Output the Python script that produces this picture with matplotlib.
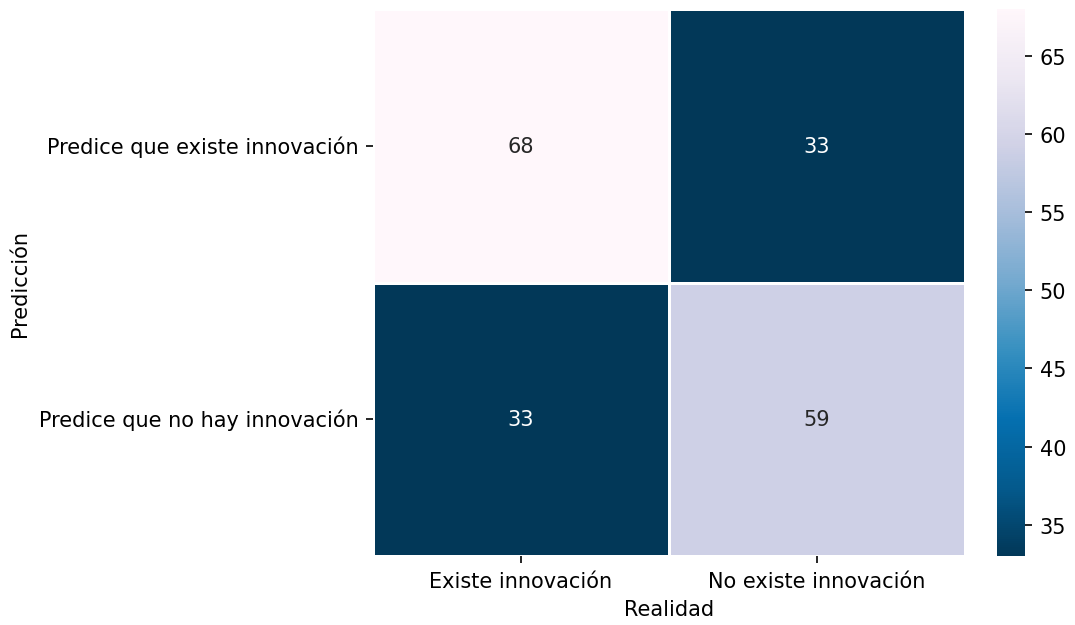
import matplotlib
matplotlib.use("Agg")
import matplotlib.pyplot as plt
import seaborn as sns
import numpy as np

row_labels = ["Predice que existe innovación", "Predice que no hay innovación"]
col_labels = ["Existe innovación", "No existe innovación"]
values = [[68, 33],
          [33, 59]]

W, H = 1075, 626
dpi = 150
fig = plt.figure(figsize=(W / dpi, H / dpi), dpi=dpi)
ax = fig.add_axes([373 / W, 1 - 557 / H, (965 - 373) / W, (557 - 10) / H])
cax = fig.add_axes([997 / W, 1 - 557 / H, (1025 - 997) / W, (557 - 10) / H])

sns.heatmap(np.array(values), annot=True, fmt="d", cmap="PuBu_r",
            linewidths=0.6, linecolor="white",
            xticklabels=col_labels, yticklabels=row_labels,
            ax=ax, cbar_ax=cax)
ax.set_xlabel("Realidad")
ax.set_ylabel("Predicción")
ax.yaxis.set_label_coords(-0.58, 0.5)
ax.tick_params(axis="y", rotation=0)
ax.tick_params(axis="x", rotation=0)

fig.savefig("out.png", dpi=dpi)
